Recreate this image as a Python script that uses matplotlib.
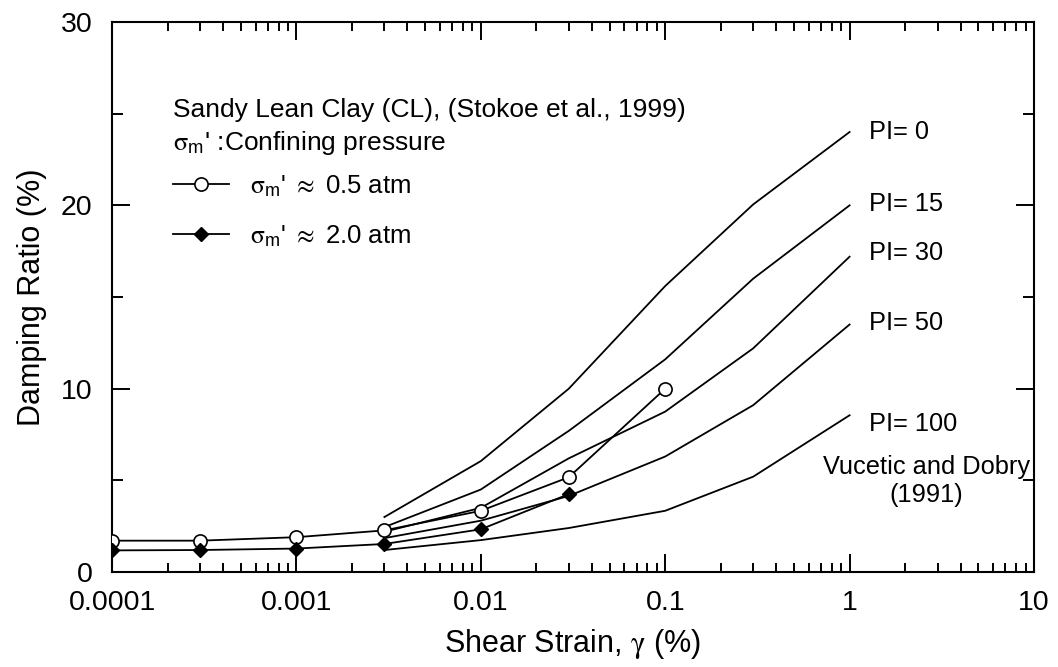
import numpy as np
import matplotlib
matplotlib.use("Agg")
import matplotlib.pyplot as plt
from matplotlib.ticker import FixedLocator, FuncFormatter, NullFormatter

plt.rcParams["font.family"] = ["Liberation Sans", "DejaVu Sans"]
plt.rcParams["mathtext.fontset"] = "stix"

# Vucetic and Dobry (1991) curves
pi_strain = [0.003, 0.01, 0.03, 0.1, 0.3, 1.0]
pi_curves = {
    "PI= 0":   [3.0, 6.05, 10.0, 15.6, 20.05, 24.0],
    "PI= 15":  [2.45, 4.5, 7.7, 11.6, 16.0, 20.0],
    "PI= 30":  [2.2, 3.5, 6.2, 8.75, 12.2, 17.2],
    "PI= 50":  [1.85, 2.8, 4.15, 6.3, 9.1, 13.5],
    "PI= 100": [1.2, 1.74, 2.4, 3.34, 5.2, 8.55],
}
pi_label_y = [24.0, 20.1, 17.4, 13.6, 8.1]

# Stokoe et al. (1999), sandy lean clay
low_strain = [0.0001, 0.0003, 0.001, 0.003, 0.01, 0.03, 0.1]
low_damp = [1.71, 1.71, 1.9, 2.27, 3.34, 5.17, 10.0]
high_strain = [0.0001, 0.0003, 0.001, 0.003, 0.01, 0.03]
high_damp = [1.18, 1.2, 1.28, 1.53, 2.33, 4.25]

xticks = [0.0001, 0.001, 0.01, 0.1, 1, 10]
yticks = [0, 10, 20, 30]

fig = plt.figure(figsize=(10.58, 6.67), dpi=100)
ax = fig.add_axes([0.1059, 0.1424, 0.8714, 0.8246])

lw = 1.3
for name, vals in pi_curves.items():
    ax.plot(pi_strain, vals, color="black", lw=lw, zorder=2)

sig = r"$\mathrm{\sigma}_\mathregular{m}$'"
ax.plot(low_strain, low_damp, color="black", lw=lw, marker="o", ms=9.5,
        mfc="white", mec="black", mew=1.2, zorder=3,
        label=sig + r" $\approx$ 0.5 atm")
ax.plot(high_strain, high_damp, color="black", lw=lw, marker="D", ms=7.5,
        mfc="black", mec="black", zorder=3,
        label=sig + r" $\approx$ 2.0 atm")

for name, ly in zip(pi_curves, pi_label_y):
    ax.text(1.27, ly, name, fontsize=18.3, ha="left", va="center")
ax.text(2.62, 4.96, "Vucetic and Dobry\n(1991)", fontsize=18.3,
        ha="center", va="center", linespacing=1.2)

ax.text(0.066, 0.84, "Sandy Lean Clay (CL), (Stokoe et al., 1999)",
        transform=ax.transAxes, fontsize=19, ha="left", va="center")
ax.text(0.066, 0.78, sig + " :Confining pressure",
        transform=ax.transAxes, fontsize=19, ha="left", va="center")

ax.legend(loc="upper left", bbox_to_anchor=(0.066, 0.725), frameon=False,
          fontsize=18.5, handlelength=2.2, handletextpad=0.8, labelspacing=0.95,
          borderpad=0, borderaxespad=0)

ax.set_xscale("log")
ax.set_xlim(0.0001, 10)
ax.set_ylim(0, 30)
ax.xaxis.set_major_locator(FixedLocator(xticks))
ax.xaxis.set_major_formatter(FuncFormatter(lambda v, p: "%g" % v))
ax.xaxis.set_minor_locator(FixedLocator(
    [m * 10.0 ** e for e in range(-4, 1) for m in range(2, 10)]))
ax.xaxis.set_minor_formatter(NullFormatter())
ax.yaxis.set_major_locator(FixedLocator(yticks))
ax.yaxis.set_minor_locator(FixedLocator([5, 15, 25]))

ax.tick_params(which="both", direction="in", top=True, right=True,
               width=1.4, labelsize=20.5, color="black")
ax.tick_params(axis="x", which="major", length=13, pad=13)
ax.tick_params(axis="x", which="minor", length=6.5)
ax.tick_params(axis="y", which="major", length=13, pad=14)
ax.tick_params(axis="y", which="minor", length=8)
for s in ax.spines.values():
    s.set_linewidth(1.5)

ax.set_xlabel(r"Shear Strain, $\mathrm{\gamma}$ (%)", fontsize=22, labelpad=8)
ax.set_ylabel("Damping Ratio (%)", fontsize=22, labelpad=10)

fig.savefig("out.png", dpi=100)
